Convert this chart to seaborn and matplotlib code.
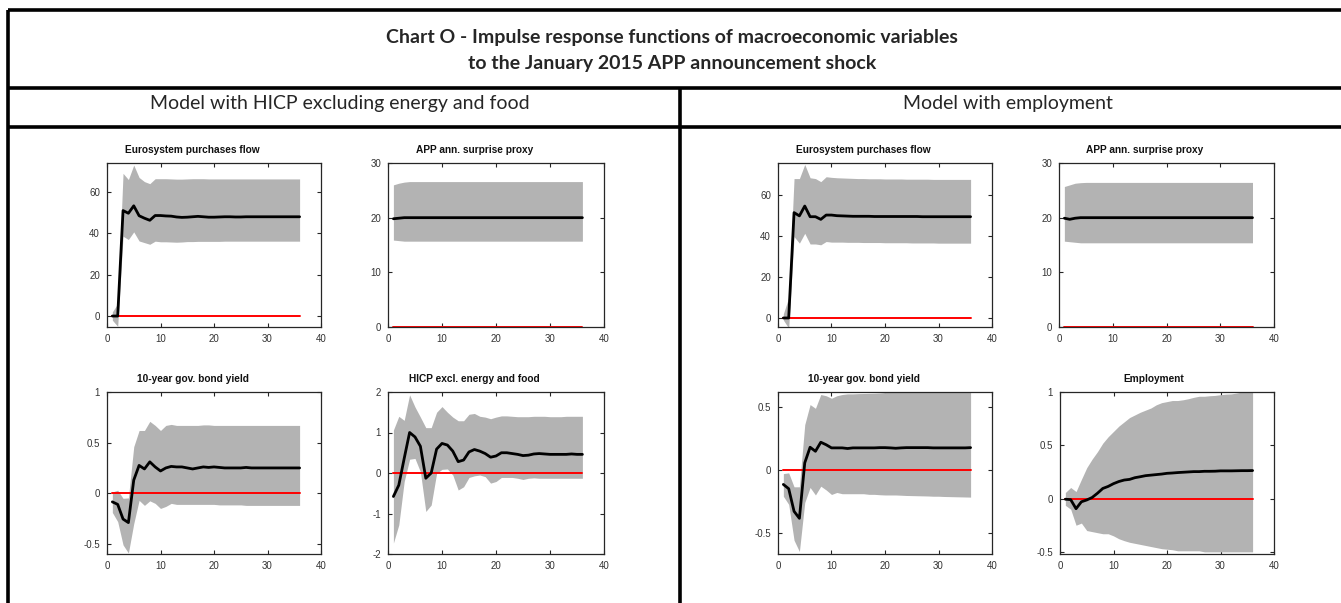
import numpy as np
import pandas as pd
import matplotlib
matplotlib.use("Agg")
import matplotlib.pyplot as plt
from matplotlib.lines import Line2D
from matplotlib.ticker import FuncFormatter
import seaborn as sns

# ---------------- data ----------------
horizon = list(range(1, 37))

chart_title = ["Chart O - Impulse response functions of macroeconomic variables",
               "to the January 2015 APP announcement shock"]
model_titles = ["Model with HICP excluding energy and food", "Model with employment"]

panel_titles_hicp = ["Eurosystem purchases flow", "APP ann. surprise proxy",
                     "10-year gov. bond yield", "HICP excl. energy and food"]
panel_titles_emp = ["Eurosystem purchases flow", "APP ann. surprise proxy",
                    "10-year gov. bond yield", "Employment"]

# Model with HICP excl. energy and food
hicp_flow_mid = [0, 0, 51, 49.7, 53.3, 48.5, 47.3, 46.3, 48.6, 48.6, 48.4, 48.3, 47.9, 47.7, 47.8, 48.0,
                 48.2, 48.0, 47.8, 47.8, 47.9, 48.0, 48.0, 47.9, 47.9, 48.0, 48.0, 48.0, 48.0, 48.0,
                 48.0, 48.0, 48.0, 48.0, 48.0, 48.0]
hicp_flow_up = [2, 6, 69, 66, 73, 67, 65, 64, 66.4, 66.4, 66.4, 66.3, 66.2, 66.2, 66.3, 66.4, 66.4,
                66.4, 66.3, 66.3, 66.3, 66.3, 66.3, 66.3, 66.3, 66.3, 66.3, 66.3, 66.3, 66.3, 66.3,
                66.3, 66.3, 66.3, 66.3, 66.3]
hicp_flow_lo = [-2, -5, 38.6, 37, 40.7, 36.3, 35.5, 34.7, 36.2, 35.9, 35.9, 35.8, 35.7, 35.8, 36.0,
                36.0, 36.1, 36.1, 36.1, 36.1, 36.1, 36.2, 36.2, 36.2, 36.2, 36.2, 36.2, 36.2, 36.2,
                36.2, 36.2, 36.2, 36.2, 36.2, 36.2, 36.2]

hicp_proxy_mid = [19.8, 19.9] + [20.0] * 34
hicp_proxy_up = [26.0, 26.3, 26.5] + [26.6] * 33
hicp_proxy_lo = [15.9, 15.8] + [15.7] * 34

hicp_bond_mid = [-0.085, -0.11, -0.255, -0.29, 0.13, 0.275, 0.24, 0.31, 0.26, 0.22, 0.25, 0.265,
                 0.26, 0.26, 0.25, 0.24, 0.25, 0.26, 0.255, 0.26, 0.255, 0.25, 0.25, 0.25, 0.25,
                 0.255, 0.25, 0.25, 0.25, 0.25, 0.25, 0.25, 0.25, 0.25, 0.25, 0.25]
hicp_bond_up = [0.013, 0.03, -0.05, -0.046, 0.46, 0.62, 0.62, 0.71, 0.67, 0.62, 0.67, 0.68, 0.67,
                0.67, 0.67, 0.67, 0.67, 0.675, 0.675, 0.67, 0.67, 0.67, 0.67, 0.67, 0.67, 0.67,
                0.67, 0.67, 0.67, 0.67, 0.67, 0.67, 0.67, 0.67, 0.67, 0.67]
hicp_bond_lo = [-0.19, -0.28, -0.51, -0.59, -0.3, -0.07, -0.12, -0.075, -0.1, -0.15, -0.13, -0.1,
                -0.11, -0.11, -0.11, -0.11, -0.11, -0.11, -0.11, -0.11, -0.115, -0.115, -0.115,
                -0.115, -0.115, -0.12, -0.12, -0.12, -0.12, -0.12, -0.12, -0.12, -0.12, -0.12,
                -0.12, -0.12]

hicp_core_mid = [-0.58, -0.3, 0.36, 1.0, 0.89, 0.66, -0.13, 0.0, 0.59, 0.73, 0.69, 0.54, 0.28, 0.32,
                 0.52, 0.58, 0.54, 0.48, 0.39, 0.42, 0.5, 0.5, 0.48, 0.46, 0.43, 0.44, 0.47, 0.48,
                 0.47, 0.46, 0.46, 0.46, 0.46, 0.47, 0.46, 0.46]
hicp_core_up = [1.06, 1.4, 1.3, 1.93, 1.63, 1.38, 1.12, 1.12, 1.5, 1.64, 1.5, 1.38, 1.29, 1.29,
                1.45, 1.47, 1.4, 1.38, 1.34, 1.38, 1.41, 1.41, 1.4, 1.39, 1.39, 1.39, 1.4, 1.4,
                1.4, 1.39, 1.39, 1.39, 1.4, 1.4, 1.4, 1.4]
hicp_core_lo = [-1.73, -1.28, -0.21, 0.34, 0.36, 0.03, -0.95, -0.79, -0.01, 0.09, 0.1, -0.05, -0.42,
                -0.34, -0.11, -0.07, -0.05, -0.09, -0.25, -0.21, -0.11, -0.11, -0.11, -0.13, -0.16,
                -0.13, -0.12, -0.13, -0.13, -0.13, -0.13, -0.13, -0.13, -0.13, -0.13, -0.13]

# Model with employment
emp_flow_mid = [0, 0, 51.4, 49.8, 54.6, 49.4, 49.4, 48.1, 50.2, 50.2, 49.9, 49.8, 49.7, 49.6, 49.6,
                49.6, 49.6, 49.5, 49.5, 49.5, 49.5, 49.5, 49.5, 49.5, 49.5, 49.5, 49.4, 49.4, 49.4,
                49.4, 49.4, 49.4, 49.4, 49.4, 49.4, 49.4]
emp_flow_up = [2, 10, 68, 68, 74.9, 68.4, 68, 66.5, 68.9, 68.6, 68.4, 68.3, 68.2, 68.1, 68.0, 68.0,
               67.9, 67.9, 67.9, 67.8, 67.8, 67.8, 67.8, 67.7, 67.7, 67.7, 67.7, 67.7, 67.6, 67.6,
               67.6, 67.6, 67.6, 67.6, 67.6, 67.6]
emp_flow_lo = [-1, -5, 39.7, 36.5, 41.3, 36.1, 36.1, 35.7, 37.3, 37, 37, 37, 36.9, 36.9, 36.9, 36.8,
               36.8, 36.8, 36.8, 36.7, 36.7, 36.7, 36.7, 36.7, 36.6, 36.6, 36.6, 36.6, 36.6, 36.5,
               36.5, 36.5, 36.5, 36.5, 36.5, 36.5]

emp_proxy_mid = [19.9, 19.7, 19.9] + [20.0] * 33
emp_proxy_up = [25.7, 26.0, 26.3, 26.4] + [26.45] * 32
emp_proxy_lo = [15.7, 15.6, 15.5] + [15.4] * 33

emp_bond_mid = [-0.116, -0.15, -0.33, -0.386, 0.056, 0.18, 0.148, 0.22, 0.2, 0.175, 0.175, 0.175,
                0.17, 0.175, 0.175, 0.175, 0.175, 0.175, 0.177, 0.177, 0.175, 0.172, 0.175, 0.177,
                0.177, 0.177, 0.177, 0.177, 0.175, 0.175, 0.175, 0.175, 0.175, 0.175, 0.175, 0.177]
emp_bond_up = [-0.03, -0.024, -0.135, -0.135, 0.36, 0.52, 0.49, 0.6, 0.59, 0.57, 0.59, 0.6, 0.605,
               0.605, 0.607, 0.608, 0.609, 0.61, 0.612, 0.616, 0.617, 0.618, 0.619, 0.62, 0.62,
               0.62, 0.62, 0.621, 0.622, 0.622, 0.623, 0.623, 0.624, 0.624, 0.625, 0.625]
emp_bond_lo = [-0.21, -0.275, -0.56, -0.65, -0.26, -0.14, -0.2, -0.13, -0.16, -0.196, -0.18, -0.19,
               -0.19, -0.19, -0.19, -0.19, -0.195, -0.195, -0.198, -0.2, -0.2, -0.2, -0.202,
               -0.204, -0.205, -0.206, -0.207, -0.208, -0.21, -0.21, -0.212, -0.213, -0.214,
               -0.215, -0.216, -0.217]

emp_emp_mid = [-0.006, -0.01, -0.095, -0.03, -0.013, 0.01, 0.05, 0.095, 0.114, 0.14, 0.16, 0.174,
               0.18, 0.196, 0.205, 0.215, 0.22, 0.225, 0.23, 0.237, 0.24, 0.244, 0.247, 0.25,
               0.253, 0.253, 0.256, 0.256, 0.257, 0.26, 0.26, 0.26, 0.261, 0.262, 0.262, 0.263]
emp_emp_up = [0.057, 0.104, 0.066, 0.18, 0.29, 0.37, 0.44, 0.52, 0.58, 0.63, 0.68, 0.72, 0.76,
              0.785, 0.81, 0.83, 0.85, 0.88, 0.9, 0.91, 0.92, 0.92, 0.927, 0.937, 0.95, 0.96, 0.96,
              0.965, 0.968, 0.975, 0.98, 0.982, 0.99, 1.0, 1.01, 1.02]
emp_emp_lo = [-0.063, -0.1, -0.25, -0.23, -0.3, -0.31, -0.32, -0.33, -0.33, -0.35, -0.377, -0.395,
              -0.41, -0.42, -0.43, -0.44, -0.45, -0.46, -0.47, -0.475, -0.48, -0.49, -0.49, -0.49,
              -0.49, -0.49, -0.5, -0.5, -0.5, -0.5, -0.5, -0.5, -0.5, -0.5, -0.5, -0.5]

# ---------------- layout / style ----------------
W, H = 1341, 603
sns.set_theme(style="ticks")
plt.rcParams["font.family"] = ["Liberation Sans", "DejaVu Sans"]

fig = plt.figure(figsize=(W / 100, H / 100), dpi=100)
fig.patch.set_facecolor("white")

def px_axes(left, top, right, bottom):
    return fig.add_axes([left / W, 1 - bottom / H, (right - left) / W, (bottom - top) / H])

panels = [
    ((107, 163, 321, 327), panel_titles_hicp[0], hicp_flow_mid, hicp_flow_up, hicp_flow_lo, (-5.3, 74), [0, 20, 40, 60], 0.40),
    ((388, 163, 604, 327), panel_titles_hicp[1], hicp_proxy_mid, hicp_proxy_up, hicp_proxy_lo, (0, 30), [0, 10, 20, 30], 0.40),
    ((107, 392, 321, 554), panel_titles_hicp[2], hicp_bond_mid, hicp_bond_up, hicp_bond_lo, (-0.6, 1), [-0.5, 0, 0.5, 1], 0.40),
    ((388, 392, 604, 554), panel_titles_hicp[3], hicp_core_mid, hicp_core_up, hicp_core_lo, (-2, 2), [-2, -1, 0, 1, 2], 0.40),
    ((778, 163, 992, 327), panel_titles_emp[0], emp_flow_mid, emp_flow_up, emp_flow_lo, (-4.4, 75.6), [0, 20, 40, 60], 0.40),
    ((1059, 163, 1274, 327), panel_titles_emp[1], emp_proxy_mid, emp_proxy_up, emp_proxy_lo, (0, 30), [0, 10, 20, 30], 0.40),
    ((778, 392, 992, 554), panel_titles_emp[2], emp_bond_mid, emp_bond_up, emp_bond_lo, (-0.67, 0.62), [-0.5, 0, 0.5], 0.40),
    ((1060, 392, 1274, 554), panel_titles_emp[3], emp_emp_mid, emp_emp_up, emp_emp_lo, (-0.52, 1), [-0.5, 0, 0.5, 1], 0.44),
]

axis_col = "#262626"
for box, title, mid, up, lo, ylim, yticks, tx in panels:
    ax = px_axes(*box)
    df = pd.DataFrame({"h": horizon, "mid": mid, "up": up, "lo": lo, "zero": [0.0] * len(horizon)})
    ax.fill_between(df["h"], df["lo"], df["up"], color="#b3b3b3", linewidth=0, zorder=1)
    sns.lineplot(data=df, x="h", y="zero", ax=ax, color="#ff0000", linewidth=1.4, zorder=2)
    sns.lineplot(data=df, x="h", y="mid", ax=ax, color="black", linewidth=2.0, zorder=3)
    ax.set_xlim(0, 40)
    ax.set_ylim(*ylim)
    ax.set_xticks([0, 10, 20, 30, 40])
    ax.set_yticks(yticks)
    ax.yaxis.set_major_formatter(FuncFormatter(lambda v, p: f"{v:g}"))
    ax.set_xlabel("")
    ax.set_ylabel("")
    ax.tick_params(direction="in", length=3, width=0.8, colors=axis_col, labelsize=7,
                   top=True, right=True, labelcolor="#333333", pad=5)
    for s in ax.spines.values():
        s.set_visible(True)
        s.set_color(axis_col)
        s.set_linewidth(0.9)
    ax.set_facecolor("white")
    ax.text(tx, 1.05, title, transform=ax.transAxes, ha="center", va="bottom",
            fontsize=7.3, fontweight="bold", color="#111111")

# ---------------- table frame and headings ----------------
def fline(x0, y0, x1, y1, lw=2.6):
    fig.add_artist(Line2D([x0 / W, x1 / W], [1 - y0 / H, 1 - y1 / H], color="black",
                          linewidth=lw, solid_capstyle="butt"))

fline(8, 10, W, 10)
fline(8, 88, W, 88)
fline(8, 127, W, 127)
fline(8, 10, 8, H)
fline(680, 88, 680, H)

head_font = ["Lato", "DejaVu Sans"]
fig.text(672 / W, 1 - 37 / H, chart_title[0], ha="center", va="center", fontsize=14,
         fontweight="bold", family=head_font)
fig.text(672 / W, 1 - 63 / H, chart_title[1], ha="center", va="center", fontsize=14,
         fontweight="bold", family=head_font)
fig.text(340 / W, 1 - 104 / H, model_titles[0], ha="center", va="center", fontsize=14,
         family=head_font)
fig.text(1008 / W, 1 - 104 / H, model_titles[1], ha="center", va="center", fontsize=14,
         family=head_font)

fig.savefig("out.png", dpi=100, facecolor="white")
